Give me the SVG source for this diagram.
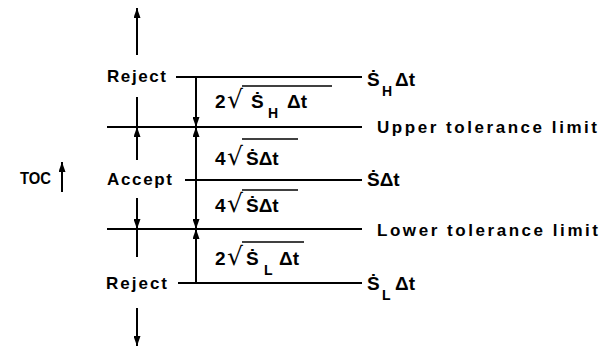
<svg xmlns="http://www.w3.org/2000/svg" width="605" height="349" viewBox="0 0 605 349">
<style>
.t{font-family:"Liberation Sans","DejaVu Sans",Arial,sans-serif;font-weight:bold;fill:#000}
.lb{font-size:17px}
.f{font-size:19px}
.s{font-size:14px}
.rad{font-family:"DejaVu Sans",sans-serif;font-size:25px;fill:#000}
.ln{stroke:#000;stroke-width:2;fill:none}
.ov{stroke:#000;stroke-width:1.6;fill:none}
</style>
<defs>
<marker id="ah" markerUnits="userSpaceOnUse" viewBox="0 0 10 7" markerWidth="10" markerHeight="7" refX="10" refY="3.5" orient="auto">
<path d="M0,0 L10,3.5 L0,7 z" fill="#000"/>
</marker>
</defs>
<rect width="605" height="349" fill="#fff"/>

<g id="connectors" class="ln">
<path d="M137,55 V8" marker-end="url(#ah)"/>
<path d="M137,97 V127"/>
<path d="M137,160 V127" marker-end="url(#ah)"/>
<path d="M137,198 V229" marker-end="url(#ah)"/>
<path d="M137,229 V257"/>
<path d="M137,308 V346" marker-end="url(#ah)"/>
<path d="M196,77 V283"/>
<path d="M196,105 V127" marker-end="url(#ah)"/>
<path d="M196,150 V127" marker-end="url(#ah)"/>
<path d="M196,205 V229" marker-end="url(#ah)"/>
<path d="M196,255 V229" marker-end="url(#ah)"/>
<path d="M62,192 V162" marker-end="url(#ah)"/>
</g>

<g id="toc">
<text class="t" x="20" y="184" font-size="16" font-weight="normal" textLength="31" lengthAdjust="spacingAndGlyphs">TOC</text>
</g>

<g id="reject-top">
<text class="t lb" x="107" y="82" textLength="59" lengthAdjust="spacing">Reject</text>
</g>
<g id="accept">
<text class="t lb" x="107" y="185" textLength="65" lengthAdjust="spacing">Accept</text>
</g>
<g id="reject-bottom">
<text class="t lb" x="106" y="289" textLength="61" lengthAdjust="spacing">Reject</text>
</g>

<g id="level-sh">
<line class="ln" x1="176" y1="77" x2="362" y2="77"/>
<text class="t f" x="367" y="86">Ṡ</text>
<text class="t s" x="382" y="96">H</text>
<text class="t f" x="395" y="86">Δt</text>
</g>
<g id="level-upper">
<line class="ln" x1="107" y1="127" x2="362" y2="127"/>
<text class="t lb" x="377" y="133" textLength="220" lengthAdjust="spacing">Upper tolerance limit</text>
</g>
<g id="level-s">
<line class="ln" x1="185" y1="180" x2="362" y2="180"/>
<text class="t f" x="367" y="186">ṠΔt</text>
</g>
<g id="level-lower">
<line class="ln" x1="107" y1="229" x2="362" y2="229"/>
<text class="t lb" x="377" y="236" textLength="221" lengthAdjust="spacing">Lower tolerance limit</text>
</g>
<g id="level-sl">
<line class="ln" x1="178" y1="283" x2="362" y2="283"/>
<text class="t f" x="367" y="290">Ṡ</text>
<text class="t s" x="382" y="300">L</text>
<text class="t f" x="395" y="290">Δt</text>
</g>

<g id="dim-h">
<text class="t f" x="215" y="108">2</text>
<text class="rad" x="227" y="108">√</text>
<line class="ov" x1="242" y1="86" x2="332" y2="86"/>
<text class="t f" x="251" y="108">Ṡ</text>
<text class="t s" x="268" y="118">H</text>
<text class="t f" x="287" y="108">Δt</text>
</g>
<g id="dim-upper">
<text class="t f" x="215" y="165">4</text>
<text class="rad" x="227" y="165">√</text>
<line class="ov" x1="242" y1="139" x2="298" y2="139"/>
<text class="t f" x="246" y="165">ṠΔt</text>
</g>
<g id="dim-lower">
<text class="t f" x="215" y="212">4</text>
<text class="rad" x="227" y="212">√</text>
<line class="ov" x1="242" y1="190" x2="298" y2="190"/>
<text class="t f" x="246" y="212">ṠΔt</text>
</g>
<g id="dim-l">
<text class="t f" x="215" y="265">2</text>
<text class="rad" x="227" y="265">√</text>
<line class="ov" x1="242" y1="242" x2="304" y2="242"/>
<text class="t f" x="246" y="265">Ṡ</text>
<text class="t s" x="264" y="275">L</text>
<text class="t f" x="279" y="265">Δt</text>
</g>
</svg>
